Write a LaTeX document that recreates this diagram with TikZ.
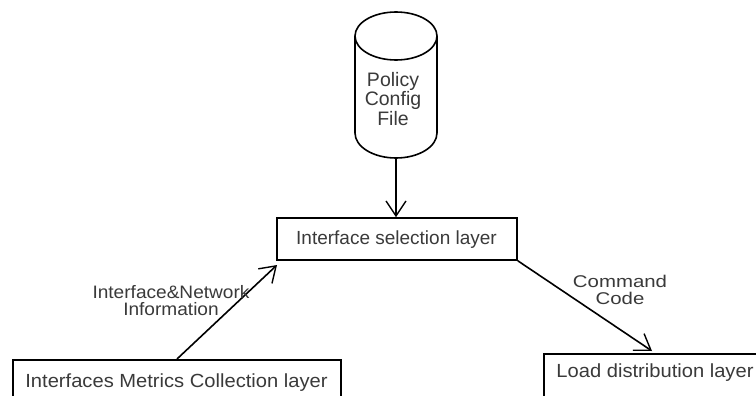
\documentclass[tikz,border=0pt]{standalone}
\usepackage{fontspec}
\setmainfont{Liberation Sans}
\newfontfamily\wideface[FakeStretch=1.06]{Liberation Sans}
\newfontfamily\widerface[FakeStretch=1.2]{Liberation Sans}
\usetikzlibrary{arrows.meta}
\definecolor{txt}{HTML}{3A3A3A}
\tikzset{
  layer/.style={draw=black, line width=1.6pt, rectangle, inner sep=0pt},
  boxtext/.style={text=txt, inner sep=0pt, font=\wideface\fontsize{19}{21}\selectfont},
  flow/.style={draw=black, line width=1.6pt, -{Straight Barb[length=15pt,width=20pt,line width=1.4pt]}},
  lbl/.style={text=txt, align=center, inner sep=0pt},
}
\begin{document}
\begin{tikzpicture}[x=1pt,y=-1pt]
\clip (0,0) rectangle (756,396);
\fill[white] (0,0) rectangle (756,396);

% Policy store drawn as an upright cylinder
\begin{scope}[line width=1.6pt]
  \draw (396,36) ellipse [x radius=41, y radius=24];
  \draw (355,36) -- (355,133) arc[start angle=180, end angle=360, x radius=41, y radius=-25] -- (437,36);
\end{scope}
\node[lbl, font=\fontsize{19.5}{18}\selectfont] (policy) at (393,99) {Policy\\Config\\File};
\coordinate (policyBottom) at (396,158);

% Layer boxes
\node[layer, minimum width=240, minimum height=42] (select) at (397,239) {};
\node[boxtext] (selectText) at (396.5,239.5) {\fontspec{Liberation Sans}\fontsize{19}{21}\selectfont Interface selection layer};
\node[layer, minimum width=328, minimum height=60, anchor=north west] (metrics) at (12,359) {};
\node[boxtext] (metricsText) at (176.5,383) {Interfaces Metrics Collection layer};
\node[layer, minimum width=240, minimum height=60, anchor=north west] (load) at (543,353) {};
\node[boxtext] (loadText) at (655,373) {Load distribution layer};

% Connectors
\draw[flow] (policyBottom) -- (select.north -| policyBottom);
\coordinate (mStart) at (177,359);
\coordinate (mEnd) at (277,265);
\draw[flow] (mStart) -- (mEnd);
\draw[flow] (select.south east) -- (652,351) coordinate (cEnd);

% Connector labels
\node[lbl, font=\wideface\fontsize{18}{17}\selectfont] (info) at (171,301) {Interface\&Network\\Information};
\node[lbl, font=\widerface\fontsize{17}{17}\selectfont] (cmd) at (620,290) {Command\\Code};
\end{tikzpicture}
\end{document}
